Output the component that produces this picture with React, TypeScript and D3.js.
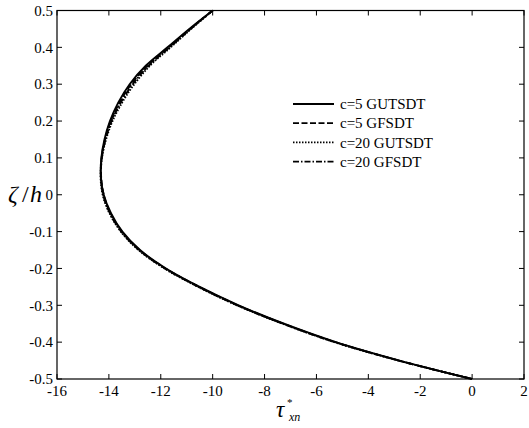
import React from "react";
import * as d3 from "d3";

// Normalised thickness coordinate ζ/h (shared by all series)
const zeta = [0.5, 0.45, 0.4, 0.35, 0.3, 0.25, 0.2, 0.15, 0.1, 0.05, 0, -0.05, -0.1, -0.15, -0.2, -0.25, -0.3, -0.35, -0.4, -0.45, -0.5];

// Transverse shear stress τ*xn for each model
const tauC5Gutsdt = [-10.0, -10.9, -11.74, -12.58, -13.2, -13.64, -13.96, -14.17, -14.29, -14.31, -14.2, -13.92, -13.48, -12.8, -11.8, -10.5, -9.0, -7.25, -5.25, -2.8, 0];
const tauC5Gfsdt = [-10.0, -10.87, -11.69, -12.52, -13.14, -13.59, -13.93, -14.15, -14.28, -14.3, -14.2, -13.94, -13.5, -12.82, -11.82, -10.52, -9.03, -7.28, -5.27, -2.82, 0];
const tauC20Gutsdt = [-10.0, -10.83, -11.62, -12.42, -13.02, -13.49, -13.86, -14.11, -14.27, -14.32, -14.24, -13.98, -13.54, -12.86, -11.86, -10.56, -9.06, -7.3, -5.3, -2.84, 0];
const tauC20Gfsdt = [-10.0, -10.85, -11.66, -12.47, -13.08, -13.54, -13.9, -14.13, -14.27, -14.31, -14.22, -13.96, -13.52, -12.84, -11.84, -10.54, -9.05, -7.29, -5.29, -2.83, 0];

const seriesNames = ["c=5 GUTSDT", "c=5 GFSDT", "c=20 GUTSDT", "c=20 GFSDT"];
const seriesTau = [tauC5Gutsdt, tauC5Gfsdt, tauC20Gutsdt, tauC20Gfsdt];
const seriesDash = ["none", "6,2.5", "1.5,1.5", "6,2,1.5,2"];

const xTicks = [-16, -14, -12, -10, -8, -6, -4, -2, 0, 2];
const yTicks = [-0.5, -0.4, -0.3, -0.2, -0.1, 0, 0.1, 0.2, 0.3, 0.4, 0.5];

const W = 529;
const H = 428;
const left = 57;
const right = 524;
const top = 10.5;
const bottom = 379;
const serif = '"Liberation Serif", "Times New Roman", "DejaVu Serif", serif';
const txt = { fontFamily: serif };

export default function App() {
  const x = d3.scaleLinear().domain([-16, 2]).range([left, right]);
  const y = d3.scaleLinear().domain([-0.5, 0.5]).range([bottom, top]);

  const line = d3
    .line<[number, number]>()
    .x((d) => x(d[0]))
    .y((d) => y(d[1]))
    .curve(d3.curveCatmullRom.alpha(0.5));

  const tickLen = 5;
  const legendX0 = 293;
  const legendX1 = 334;
  const legendTextX = 340;
  const legendY0 = 104;
  const legendDy = 19.2;

  return (
    <svg width={W} height={H} style={{ position: "absolute", left: 0, top: 0, background: "#fff" }}>
      <rect x={0} y={0} width={W} height={H} fill="#fff" />

      {/* curves */}
      {seriesTau.map((tau, i) => (
        <path
          key={seriesNames[i]}
          d={line(tau.map((t, k) => [t, zeta[k]]) as [number, number][]) || ""}
          fill="none"
          stroke="#000"
          strokeWidth={1.9}
          strokeDasharray={seriesDash[i]}
        />
      ))}

      {/* frame */}
      <rect x={left} y={top} width={right - left} height={bottom - top} fill="none" stroke="#000" strokeWidth={1.2} />

      {/* x ticks */}
      {xTicks.map((t) => (
        <g key={"x" + t}>
          <line x1={x(t)} x2={x(t)} y1={bottom} y2={bottom - tickLen} stroke="#000" strokeWidth={1} />
          <line x1={x(t)} x2={x(t)} y1={top} y2={top + tickLen} stroke="#000" strokeWidth={1} />
          <text x={x(t)} y={396} fontSize={15} textAnchor="middle" fill="#000" style={txt}>
            {String(t)}
          </text>
        </g>
      ))}

      {/* y ticks */}
      {yTicks.map((t) => (
        <g key={"y" + t}>
          <line x1={left} x2={left + tickLen} y1={y(t)} y2={y(t)} stroke="#000" strokeWidth={1} />
          <line x1={right} x2={right - tickLen} y1={y(t)} y2={y(t)} stroke="#000" strokeWidth={1} />
          <text x={53} y={y(t)} dy="0.35em" fontSize={15} textAnchor="end" fill="#000" style={txt}>
            {t === 0 ? "0" : t.toFixed(1)}
          </text>
        </g>
      ))}

      {/* axis labels */}
      <text x={8} y={202} fontSize={24} fill="#000" style={txt}>
        <tspan fontStyle="italic">ζ</tspan>
        <tspan x={22}>/</tspan>
        <tspan x={30} fontStyle="italic">h</tspan>
      </text>
      <text x={276} y={417} fontSize={23} fontStyle="italic" fill="#000" style={txt}>
        τ
        <tspan fontSize={11} fontStyle="normal" x={287} y={406}>*</tspan>
        <tspan fontSize={12} x={289} y={421}>xn</tspan>
      </text>

      {/* legend */}
      {seriesNames.map((name, i) => (
        <g key={"lg" + i}>
          <line
            x1={legendX0}
            x2={legendX1}
            y1={legendY0 + i * legendDy}
            y2={legendY0 + i * legendDy}
            stroke="#000"
            strokeWidth={1.8}
            strokeDasharray={seriesDash[i]}
          />
          <text x={legendTextX} y={legendY0 + i * legendDy} dy="0.35em" fontSize={15} fill="#000" style={txt}>
            {name}
          </text>
        </g>
      ))}
    </svg>
  );
}
